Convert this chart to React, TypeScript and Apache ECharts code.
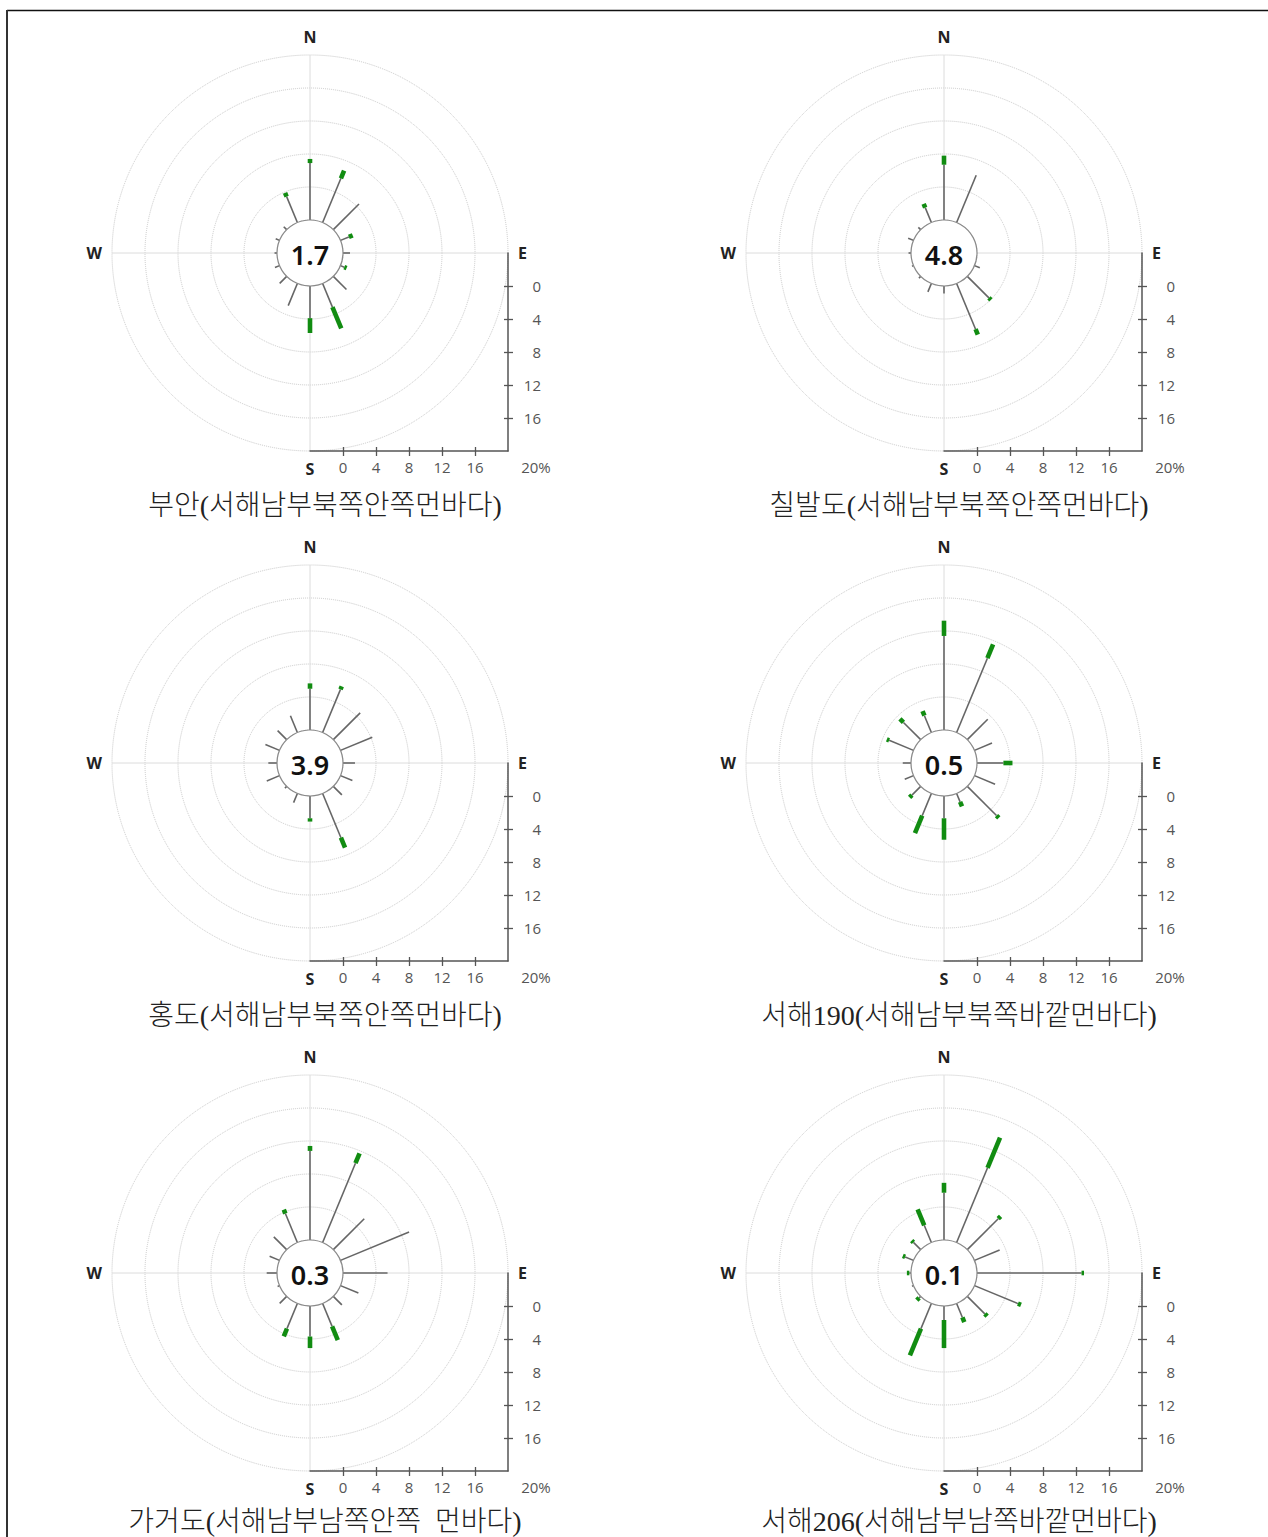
import React, { useEffect, useRef } from 'react';
import * as echarts from 'echarts';

// 16 wind directions (degrees clockwise from north)
const DIRECTIONS = ['N', 'NNE', 'NE', 'ENE', 'E', 'ESE', 'SE', 'SSE', 'S', 'SSW', 'SW', 'WSW', 'W', 'WNW', 'NW', 'NNW'];
const DIR_ANGLES = [0, 22.5, 45, 67.5, 90, 112.5, 135, 157.5, 180, 202.5, 225, 247.5, 270, 292.5, 315, 337.5];
const CARDINALS: Record<number, string> = { 0: 'N', 90: 'E', 180: 'S', 270: 'W' };
const TICK_VALUES = [0, 4, 8, 12, 16];
const LABEL_VALUES = [0, 4, 8, 12, 16, 20];

const STATION_NAMES = [
  '부안(서해남부북쪽안쪽먼바다)',
  '칠발도(서해남부북쪽안쪽먼바다)',
  '홍도(서해남부북쪽안쪽먼바다)',
  '서해190(서해남부북쪽바깥먼바다)',
  '가거도(서해남부남쪽안쪽  먼바다)',
  '서해206(서해남부남쪽바깥먼바다)',
];
const CALM = [1.7, 4.8, 3.9, 0.5, 0.3, 0.1];

// frequency (%) of low wind speed class (gray) and higher class (green), per direction N..NNW
const BUAN_LOW = [6.9, 5.8, 4.4, 1.1, 0.85, 0.5, 2.25, 3.1, 3.9, 2.9, 1.2, 0.6, 0.3, 0.5, 0.5, 3.4];
const BUAN_HIGH = [0.5, 1.0, 0, 0.5, 0, 0.3, 0, 2.8, 1.8, 0, 0, 0, 0, 0, 0, 0.5];
const CHILBAL_LOW = [6.7, 6.2, 0, 0, 0, 0.7, 3.7, 6.0, 0.9, 1.1, 0.3, 0.2, 0.3, 0.7, 0.4, 1.95];
const CHILBAL_HIGH = [1.1, 0, 0, 0, 0, 0, 0.35, 0.7, 0, 0, 0, 0, 0, 0, 0, 0.5];
const HONGDO_LOW = [5.0, 5.66, 4.6, 4.17, 1.45, 1.56, 1.46, 5.8, 2.7, 1.2, 0.3, 1.67, 1.05, 1.85, 1.55, 2.2];
const HONGDO_HIGH = [0.65, 0.4, 0, 0, 0, 0, 0, 1.3, 0.4, 0, 0, 0, 0, 0, 0, 0];
const SH190_LOW = [11.4, 9.75, 3.5, 2.3, 3.2, 2.7, 5.0, 1.1, 2.7, 2.9, 1.5, 1.15, 1.0, 3.2, 2.95, 2.2];
const SH190_HIGH = [1.85, 1.8, 0, 0, 1.1, 0, 0.4, 0.6, 2.6, 2.3, 0.4, 0, 0, 0.3, 0.6, 0.6];
const GAGEO_LOW = [10.8, 10.4, 5.3, 9.0, 5.4, 2.35, 1.46, 3.0, 3.7, 3.3, 1.2, 0.25, 1.25, 1.3, 2.2, 3.8];
const GAGEO_HIGH = [0.6, 1.3, 0, 0, 0, 0, 0, 1.8, 1.4, 1.0, 0, 0, 0, 0, 0, 0.5];
const SH206_LOW = [5.73, 9.8, 5.3, 3.3, 12.67, 5.7, 3.0, 1.83, 1.7, 3.3, 0.26, 0.2, 0.2, 1.1, 1.24, 2.26];
const SH206_HIGH = [1.2, 3.95, 0.4, 0, 0.3, 0.4, 0.4, 0.6, 3.4, 3.5, 0.4, 0, 0.3, 0.3, 0.3, 2.1];

const LOW_SERIES = [BUAN_LOW, CHILBAL_LOW, HONGDO_LOW, SH190_LOW, GAGEO_LOW, SH206_LOW];
const HIGH_SERIES = [BUAN_HIGH, CHILBAL_HIGH, HONGDO_HIGH, SH190_HIGH, GAGEO_HIGH, SH206_HIGH];

// layout
const CENTERS: [number, number][] = [
  [310, 253], [944, 253],
  [310, 763], [944, 763],
  [310, 1273], [944, 1273],
];
const R = 198;
const PAGE_H = 1537;
const SANS = "'Open Sans', 'Noto Sans', sans-serif";
const AXIS_COLOR = '#555';
const LABEL_COLOR = '#555';

function buildOption(): any {
  const polar = CENTERS.map((c) => ({ center: c, radius: R }));
  const angleAxis = CENTERS.map((_, i) => ({
    polarIndex: i,
    type: 'value',
    min: 0,
    max: 360,
    interval: 90,
    startAngle: 90,
    clockwise: true,
    axisLine: { show: false },
    axisTick: { show: false },
    axisLabel: {
      show: true,
      margin: 10,
      formatter: (v: number) => CARDINALS[v] ?? '',
      fontFamily: SANS,
      fontWeight: 'bold',
      fontSize: 16,
      color: '#222',
    },
    splitLine: { show: true, lineStyle: { color: '#dcdcdc', width: 1 } },
  }));
  const radiusAxis = CENTERS.map((_, i) => ({
    polarIndex: i,
    type: 'value',
    min: -4,
    max: 20,
    interval: 4,
    axisLine: { show: false },
    axisTick: { show: false },
    axisLabel: { show: false },
    splitLine: { show: true, lineStyle: { color: '#c8c8c8', type: 'dotted', width: 1 } },
  }));

  const grid = CENTERS.map((c) => ({
    left: c[0],
    top: c[1],
    width: R,
    height: R,
    outerBoundsMode: 'none',
    containLabel: false,
  }));

  const tickLine = { color: AXIS_COLOR, width: 1.3 };
  const xAxis: any[] = [];
  const yAxis: any[] = [];
  CENTERS.forEach((_, i) => {
    xAxis.push({
      gridIndex: i,
      type: 'value',
      position: 'bottom',
      min: -4,
      max: 20,
      interval: 4,
      axisLine: { show: true, onZero: false, lineStyle: { color: AXIS_COLOR, width: 1.5 } },
      axisTick: { show: true, length: 5, inside: false, customValues: TICK_VALUES, lineStyle: tickLine },
      axisLabel: {
        show: true,
        customValues: LABEL_VALUES,
        margin: 8,
        color: LABEL_COLOR,
        fontFamily: SANS,
        fontSize: 15,
        formatter: (v: number) => (v === 20 ? '{p|20%}' : v < 0 ? '' : String(v)),
        rich: { p: { padding: [0, 0, 0, 56], color: LABEL_COLOR, fontFamily: SANS, fontSize: 15 } },
      },
      splitLine: { show: false },
    });
    xAxis.push({
      gridIndex: i,
      type: 'value',
      position: 'bottom',
      min: -4,
      max: 20,
      interval: 4,
      axisLine: { show: false, onZero: false },
      axisTick: { show: true, length: 4, inside: true, customValues: TICK_VALUES, lineStyle: tickLine },
      axisLabel: { show: false },
      splitLine: { show: false },
    });
    yAxis.push({
      gridIndex: i,
      type: 'value',
      position: 'right',
      inverse: true,
      min: -4,
      max: 20,
      interval: 4,
      axisLine: { show: true, onZero: false, lineStyle: { color: AXIS_COLOR, width: 1.5 } },
      axisTick: { show: true, length: 5, inside: false, customValues: TICK_VALUES, lineStyle: tickLine },
      axisLabel: {
        show: true,
        customValues: TICK_VALUES,
        margin: 33,
        align: 'right',
        color: LABEL_COLOR,
        fontFamily: SANS,
        fontSize: 15,
        formatter: (v: number) => (v < 0 || v >= 20 ? '' : String(v)),
      },
      splitLine: { show: false },
    });
    yAxis.push({
      gridIndex: i,
      type: 'value',
      position: 'right',
      inverse: true,
      min: -4,
      max: 20,
      interval: 4,
      axisLine: { show: false, onZero: false },
      axisTick: { show: true, length: 4, inside: true, customValues: TICK_VALUES, lineStyle: tickLine },
      axisLabel: { show: false },
      splitLine: { show: false },
    });
  });

  const series: any[] = [];
  CENTERS.forEach((_, i) => {
    const low = LOW_SERIES[i];
    const high = HIGH_SERIES[i];
    series.push({
      type: 'custom',
      name: STATION_NAMES[i],
      coordinateSystem: 'polar',
      polarIndex: i,
      z: 3,
      silent: true,
      encode: { radius: 1, angle: 0 },
      data: DIR_ANGLES.map((a, k) => [a, low[k], high[k], DIRECTIONS[k]]),
      renderItem: (params: any, api: any) => {
        const a = api.value(0);
        const lo = api.value(1);
        const hi = api.value(2);
        const p0 = api.coord([0, a]);
        const p1 = api.coord([lo, a]);
        const p2 = api.coord([lo + hi, a]);
        const children: any[] = [];
        if (lo > 0) {
          children.push({
            type: 'line',
            shape: { x1: p0[0], y1: p0[1], x2: p1[0], y2: p1[1] },
            style: { stroke: '#666', lineWidth: 1.6 },
          });
        }
        if (hi > 0) {
          children.push({
            type: 'line',
            shape: { x1: p1[0], y1: p1[1], x2: p2[0], y2: p2[1] },
            style: { stroke: '#118c11', lineWidth: 4.6, lineCap: 'butt' },
          });
        }
        return { type: 'group', children };
      },
    });
    series.push({
      type: 'custom',
      name: 'calm-' + i,
      coordinateSystem: 'polar',
      polarIndex: i,
      z: 4,
      silent: true,
      encode: { radius: 0 },
      data: [[CALM[i]]],
      renderItem: (params: any, api: any) => {
        const c = api.coord([-4, 0]);
        const e = api.coord([0, 0]);
        const r = Math.hypot(e[0] - c[0], e[1] - c[1]);
        return {
          type: 'group',
          children: [
            {
              type: 'circle',
              shape: { cx: c[0], cy: c[1], r },
              style: { fill: '#fff', stroke: '#8a8a8a', lineWidth: 1.2 },
            },
            {
              type: 'text',
              x: c[0],
              y: c[1] + 1,
              style: {
                text: Number(api.value(0)).toFixed(1),
                fill: '#111',
                fontFamily: "'Noto Sans', 'Open Sans', sans-serif",
                fontWeight: 600,
                fontSize: 27,
                align: 'center',
                verticalAlign: 'middle',
              },
            },
          ],
        };
      },
    });
  });

  const graphic: any[] = [
    { type: 'line', shape: { x1: 7, y1: 10.5, x2: 1268, y2: 10.5 }, style: { stroke: '#111', lineWidth: 1.5 }, silent: true },
    { type: 'line', shape: { x1: 7, y1: 10, x2: 7, y2: PAGE_H }, style: { stroke: '#333', lineWidth: 2 }, silent: true },
  ];
  CENTERS.forEach((c, i) => {
    graphic.push({
      type: 'text',
      x: c[0] + 15,
      y: Math.min(c[1] + 252, PAGE_H - 16),
      silent: true,
      style: {
        text: STATION_NAMES[i],
        fill: '#222',
        fontFamily: "'Liberation Serif', 'Noto Sans CJK KR', serif",
        fontSize: 28,
        fontWeight: 300,
        align: 'center',
        verticalAlign: 'middle',
      },
    });
  });

  return {
    animation: false,
    backgroundColor: '#fff',
    polar,
    angleAxis,
    radiusAxis,
    grid,
    xAxis,
    yAxis,
    series,
    graphic,
  };
}

export default function App() {
  const ref = useRef<HTMLDivElement>(null);
  useEffect(() => {
    document.body.style.margin = '0';
    if (!ref.current) return;
    const chart = echarts.init(ref.current, undefined, { renderer: 'svg' });
    chart.setOption(buildOption());
    return () => {
      chart.dispose();
    };
  }, []);
  return <div ref={ref} style={{ width: 1268, height: PAGE_H }} />;
}
